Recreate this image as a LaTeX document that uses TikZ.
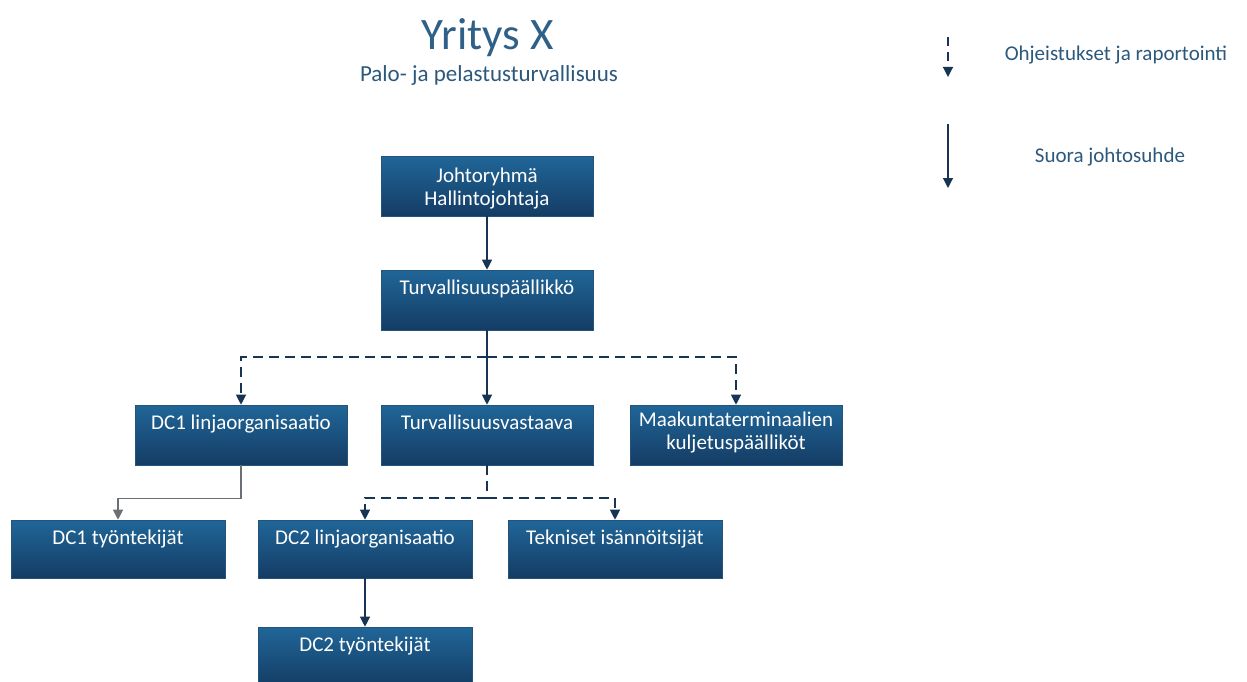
\documentclass[tikz,border=0pt]{standalone}
\usepackage{fontspec}
\setmainfont{Carlito}
\usetikzlibrary{arrows.meta}
\definecolor{boxtop}{RGB}{32,102,152}
\definecolor{boxbot}{RGB}{20,60,100}
\definecolor{boxedge}{RGB}{36,84,124}
\definecolor{linkcol}{RGB}{24,52,84}
\definecolor{headcol}{RGB}{46,96,136}
\definecolor{subcol}{RGB}{44,88,124}
\begin{document}
\begin{tikzpicture}[x=1pt,y=-1pt,
  orgbox/.style={rectangle, inner sep=0pt, minimum width=212pt, minimum height=60pt,
    top color=boxtop, bottom color=boxbot, draw=boxedge, line width=0.6pt},
  smallbox/.style={orgbox, minimum width=214pt, minimum height=58pt},
  boxtxt/.style={anchor=north, yshift=-7pt, text=white, align=center,
    font=\fontsize{21}{22.5}\selectfont},
  link/.style={draw=linkcol, line width=1.2pt, -{Triangle[width=10pt,length=10pt]}},
  dlink/.style={link, dash pattern=on 10pt off 6pt},
  plain/.style={draw=linkcol, line width=1.2pt, dash pattern=on 10pt off 6pt},
  legendtxt/.style={text=subcol, font=\fontsize{21}{24}\selectfont}]
\useasboundingbox (0,0) rectangle (1247,682);

% heading
\node[text=headcol, font=\fontsize{45}{50}\selectfont] (title) at (488,38) {Yritys X};
\node[text=subcol, font=\fontsize{23}{26}\selectfont] (subtitle) at (489,75) {Palo- ja pelastusturvallisuus};

% legend
\coordinate (lg1a) at (948,37);
\coordinate (lg1b) at (948,77);
\coordinate (lg2a) at (948,124);
\coordinate (lg2b) at (948,188);
\draw[dlink, dash pattern=on 9pt off 6pt] (lg1a) -- (lg1b);
\draw[link] (lg2a) -- (lg2b);
\node[legendtxt] (lgtxt1) at (1116,55) {Ohjeistukset ja raportointi};
\node[legendtxt] (lgtxt2) at (1110,157) {Suora johtosuhde};

% organisation boxes
\node[orgbox, label={[boxtxt, yshift=-2pt]north:Johtoryhmä\\Hallintojohtaja}] (jr) at (487,186) {};
\node[orgbox, label={[boxtxt]north:Turvallisuuspäällikkö}] (tp) at (487,300) {};
\node[orgbox, label={[boxtxt]north:DC1 linjaorganisaatio}] (dc1) at (241,435) {};
\node[orgbox, label={[boxtxt]north:Turvallisuusvastaava}] (tv) at (487,435) {};
\node[orgbox, label={[boxtxt, yshift=3pt]north:Maakuntaterminaalien\\kuljetuspäälliköt}] (mk) at (736,435) {};
\node[smallbox, label={[boxtxt]north:DC1 työntekijät}] (dc1t) at (118,549) {};
\node[smallbox, label={[boxtxt]north:DC2 linjaorganisaatio}] (dc2) at (365,549) {};
\node[smallbox, label={[boxtxt]north:Tekniset isännöitsijät}] (tek) at (615,549) {};
\node[smallbox, minimum height=60pt, label={[boxtxt]north:DC2 työntekijät}] (dc2t) at (365,657) {};

% direct reporting lines
\draw[link] (jr.south) -- (tp.north);
\draw[link] (tp.south) -- (tv.north);
\draw[link] (dc2.south) -- (dc2t.north);
\draw[link, draw=gray!80!linkcol] (dc1.south) -- ++(0,33) -| (dc1t.north);

% guidance and reporting lines
\coordinate (bus1) at (487,357);
\draw[dlink] (bus1) -| (dc1.north);
\draw[dlink] (bus1) -| (mk.north);
\coordinate (bus2) at (487,498);
\draw[plain] (tv.south) -- (bus2);
\draw[dlink] (bus2) -| (dc2.north);
\draw[dlink] (bus2) -| (tek.north);
\end{tikzpicture}
\end{document}
